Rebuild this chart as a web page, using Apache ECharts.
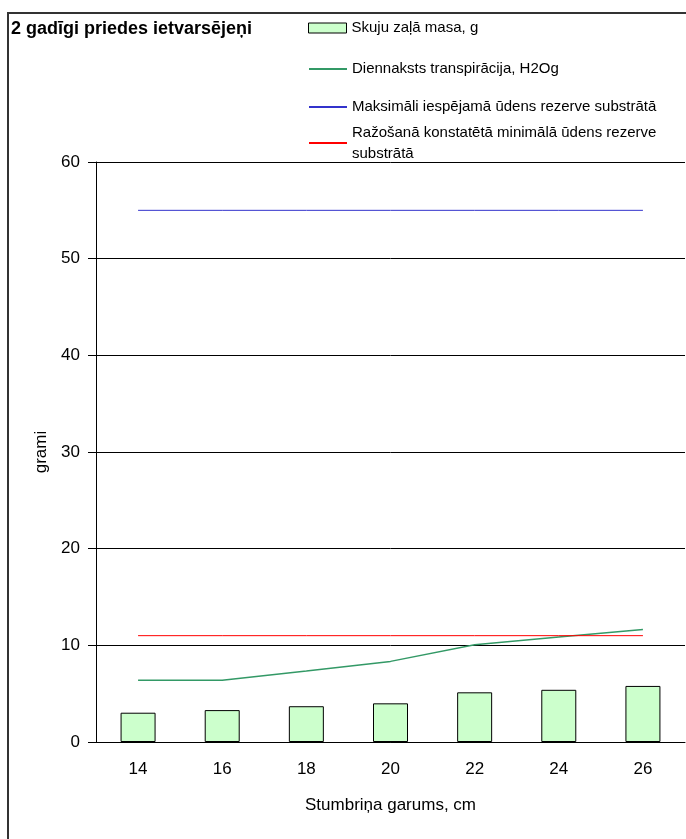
<!DOCTYPE html>
<html>
<head>
<meta charset="utf-8">
<title>2 gadīgi priedes ietvarsējeņi</title>
<script src="https://cdn.jsdelivr.net/npm/echarts@6/dist/echarts.min.js"></script>
<style>
  html, body { margin: 0; padding: 0; background: #fff; }
  #chart { width: 686px; height: 839px; }
</style>
</head>
<body>
<div id="chart"></div>
<script>
const categories = ['14', '16', '18', '20', '22', '24', '26'];
const needleMass = [3.03, 3.3, 3.7, 4.0, 5.14, 5.4, 5.8];
const dailyTranspiration = [6.38, 6.38, 7.35, 8.34, 10.06, 10.86, 11.65];
const maxWaterReserve = [55, 55, 55, 55, 55, 55, 55];
const minWaterReserve = [11, 11, 11, 11, 11, 11, 11];
const yTicks = { min: 0, max: 60, interval: 10 };

const seriesNames = [
  'Skuju zaļā masa, g',
  'Diennaksts transpirācija, H2Og',
  'Maksimāli iespējamā ūdens rezerve substrātā',
  'Ražošanā konstatētā minimālā ūdens rezerve substrātā'
];

const font = "'Liberation Sans', Arial, sans-serif";
const legendCenters = [28, 69, 107, 143];

const chart = echarts.init(document.getElementById('chart'));

// one legend per entry so each row sits where Excel put it
const legends = seriesNames.map((name, i) => {
  const last = i === seriesNames.length - 1;
  const legend = {
    data: [name],
    left: 308,
    top: last ? legendCenters[i] - 5 - 26.5 : legendCenters[i] - 9,
    padding: 0,
    itemWidth: 38,
    itemHeight: 10,
    selectedMode: false,
    formatter: n => (last ? 'Ražošanā konstatētā minimālā ūdens rezerve\nsubstrātā' : n),
    textStyle: {
      fontFamily: font,
      fontSize: 15,
      color: '#000',
      lineHeight: last ? 21 : 18,
      padding: last ? [21, 0, 0, 0] : 0
    }
  };
  if (i === 0) {
    legend.icon = 'rect';
    legend.itemStyle = { borderWidth: 1, borderColor: '#000' };
  } else {
    legend.itemStyle = { opacity: 0 };
  }
  return legend;
});

chart.setOption({
  animation: false,
  backgroundColor: '#fff',
  title: {
    text: '2 gadīgi priedes ietvarsējeņi',
    left: 11,
    top: 20,
    padding: 0,
    textStyle: { fontFamily: font, fontSize: 18, fontWeight: 'bold', color: '#000' }
  },
  legend: legends,
  grid: { left: 96, top: 162, width: 589, height: 580 },
  xAxis: {
    type: 'category',
    data: categories,
    name: 'Stumbriņa garums, cm',
    nameLocation: 'middle',
    nameGap: 55,
    nameTextStyle: { fontFamily: font, fontSize: 17, color: '#000' },
    axisLine: { lineStyle: { color: '#000', width: 1 } },
    axisTick: { length: 6, lineStyle: { color: '#000' } },
    axisLabel: { fontFamily: font, fontSize: 17, color: '#000', margin: 19 }
  },
  yAxis: {
    type: 'value',
    min: yTicks.min,
    max: yTicks.max,
    interval: yTicks.interval,
    name: 'grami',
    nameLocation: 'middle',
    nameGap: 46,
    nameTextStyle: { fontFamily: font, fontSize: 17, color: '#000' },
    axisLine: { show: true, lineStyle: { color: '#000', width: 1 } },
    axisTick: { show: true, length: 8, lineStyle: { color: '#000' } },
    axisLabel: { fontFamily: font, fontSize: 17, color: '#000', margin: 16 },
    splitLine: { lineStyle: { color: '#000', width: 1 } }
  },
  series: [
    {
      name: seriesNames[0],
      type: 'bar',
      barWidth: 35,
      data: needleMass,
      itemStyle: { color: '#CCFFCC', borderColor: '#000', borderWidth: 1 }
    },
    {
      name: seriesNames[1],
      type: 'line',
      symbol: 'none',
      data: dailyTranspiration,
      lineStyle: { color: '#339966', width: 1.5 },
      itemStyle: { color: '#339966' }
    },
    {
      name: seriesNames[2],
      type: 'line',
      symbol: 'none',
      data: maxWaterReserve,
      lineStyle: { color: '#3333CC', width: 1 },
      itemStyle: { color: '#3333CC' }
    },
    {
      name: seriesNames[3],
      type: 'line',
      symbol: 'none',
      data: minWaterReserve,
      lineStyle: { color: '#FF0000', width: 1 },
      itemStyle: { color: '#FF0000' }
    }
  ],
  graphic: [
    {
      type: 'rect',
      silent: true,
      shape: { x: 8, y: 13, width: 800, height: 900 },
      style: { fill: 'none', stroke: '#333', lineWidth: 2 }
    }
  ]
});
</script>
</body>
</html>
